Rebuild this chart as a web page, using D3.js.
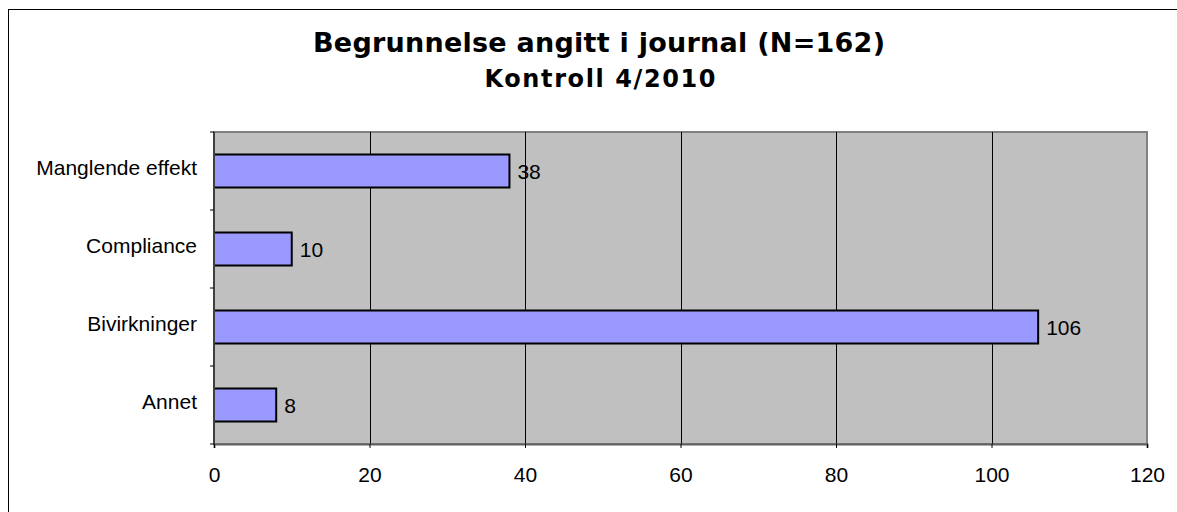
<!DOCTYPE html>
<html>
<head>
<meta charset="utf-8">
<script src="https://cdn.jsdelivr.net/npm/d3@7"></script>
<style>
  body { margin: 0; background: #fff; }
  svg { display: block; }
</style>
</head>
<body>
<svg id="chart" width="1177" height="512"></svg>
<script>
// chart data
const categories = ['Manglende effekt', 'Compliance', 'Bivirkninger', 'Annet'];
const counts = [38, 10, 106, 8];
const xTicks = [0, 20, 40, 60, 80, 100, 120];
const titleText = 'Begrunnelse angitt i journal (N=162)';
const subtitleText = 'Kontroll 4/2010';

const svg = d3.select('#chart');
const plot = { left: 214, top: 132, right: 1147, bottom: 444 };
const labelFont = 'Liberation Sans, Arial, sans-serif';
const titleFont = 'DejaVu Sans, Verdana, sans-serif';

// outer frame (right and bottom edges fall outside the picture)
svg.append('rect')
  .attr('x', 8.5).attr('y', 9.5)
  .attr('width', 1180).attr('height', 520)
  .attr('fill', '#fff').attr('stroke', '#000').attr('stroke-width', 1);

const x = d3.scaleLinear().domain([0, 120]).range([plot.left, plot.right]);
const y = d3.scaleBand().domain(categories).range([plot.top, plot.bottom]).padding(0);
const barH = 33;

// plot background
svg.append('rect')
  .attr('x', plot.left).attr('y', plot.top)
  .attr('width', plot.right - plot.left).attr('height', plot.bottom - plot.top)
  .attr('fill', '#c0c0c0').attr('stroke', '#808080').attr('stroke-width', 2);

// vertical gridlines
svg.append('g').selectAll('line')
  .data(xTicks.filter(t => t > 0 && t < 120))
  .join('line')
  .attr('x1', d => Math.round(x(d)) + 0.5).attr('x2', d => Math.round(x(d)) + 0.5)
  .attr('y1', plot.top).attr('y2', plot.bottom)
  .attr('stroke', '#000').attr('stroke-width', 1);

// bars
svg.append('g').selectAll('rect')
  .data(categories)
  .join('rect')
  .attr('x', x(0))
  .attr('y', d => y(d) + y.bandwidth() / 2 - barH / 2)
  .attr('width', (d, i) => x(counts[i]) - x(0))
  .attr('height', barH)
  .attr('fill', '#9999ff').attr('stroke', '#000').attr('stroke-width', 2);

// value labels
svg.append('g').selectAll('text')
  .data(categories)
  .join('text')
  .attr('x', (d, i) => x(counts[i]) + 8)
  .attr('y', d => y(d) + y.bandwidth() / 2 + 8)
  .attr('font-family', labelFont)
  .attr('font-size', 21)
  .attr('fill', '#000')
  .text((d, i) => counts[i]);

// x axis
const xAxis = svg.append('g')
  .attr('transform', `translate(0,${plot.bottom})`)
  .call(d3.axisBottom(x).tickValues(xTicks).tickSize(4).tickPadding(19));
xAxis.select('.domain').attr('stroke', '#606060').attr('stroke-width', 2);
xAxis.selectAll('.tick line').attr('stroke', '#000');
xAxis.selectAll('.tick text')
  .attr('font-family', labelFont)
  .attr('font-size', 21).attr('fill', '#000');

// y axis: ticks sit on band boundaries, labels at band centres
const yAxisG = svg.append('g');
yAxisG.append('line')
  .attr('x1', plot.left).attr('x2', plot.left)
  .attr('y1', plot.top).attr('y2', plot.bottom)
  .attr('stroke', '#404040').attr('stroke-width', 2);
const bounds = categories.map(c => y(c)).concat([plot.bottom]);
yAxisG.selectAll('line.tick')
  .data(bounds)
  .join('line')
  .attr('class', 'tick')
  .attr('x1', plot.left - 4).attr('x2', plot.left)
  .attr('y1', d => d).attr('y2', d => d)
  .attr('stroke', '#000').attr('stroke-width', 1);
yAxisG.selectAll('text')
  .data(categories)
  .join('text')
  .attr('x', 197)
  .attr('y', d => y(d) + y.bandwidth() / 2 + 4)
  .attr('text-anchor', 'end')
  .attr('font-family', labelFont)
  .attr('font-size', 21)
  .attr('fill', '#000')
  .text(d => d);

// titles
svg.append('text')
  .attr('x', 599).attr('y', 52)
  .attr('text-anchor', 'middle')
  .attr('font-family', titleFont)
  .attr('font-weight', 'bold')
  .attr('font-size', 27)
  .attr('textLength', 572).attr('lengthAdjust', 'spacing')
  .text(titleText);
svg.append('text')
  .attr('x', 600).attr('y', 87)
  .attr('text-anchor', 'middle')
  .attr('font-family', titleFont)
  .attr('font-weight', 'bold')
  .attr('font-size', 24)
  .attr('textLength', 231).attr('lengthAdjust', 'spacing')
  .text(subtitleText);
</script>
</body>
</html>
